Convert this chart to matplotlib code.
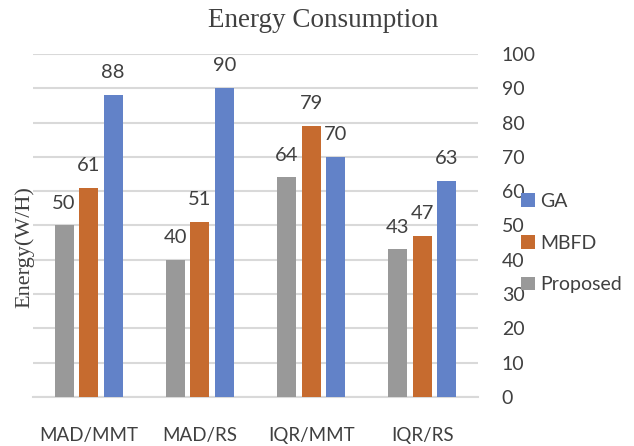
import matplotlib
matplotlib.use('Agg')
import matplotlib.pyplot as plt
import numpy as np

categories = ['MAD/MMT', 'MAD/RS', 'IQR/MMT', 'IQR/RS']
proposed = [50, 40, 64, 43]
mbfd = [61, 51, 79, 47]
ga = [88, 90, 70, 63]

text_col = '#404040'
sans = ['Lato', 'DejaVu Sans']
serif = ['Liberation Serif', 'DejaVu Serif']

fig = plt.figure(figsize=(6.34, 4.46), dpi=100)
ax = fig.add_axes([0.052, 0.110, 0.702, 0.769])

x = np.arange(len(categories))
w = 0.17
step = 0.22
b1 = ax.bar(x - step, proposed, w, color='#999999', label='Proposed', zorder=3)
b2 = ax.bar(x, mbfd, w, color='#C66B2F', label='MBFD', zorder=3)
b3 = ax.bar(x + step, ga, w, color='#6282C8', label='GA', zorder=3)

for bars in (b1, b2, b3):
    ax.bar_label(bars, padding=10, fontsize=14.5, color=text_col, family=sans)

ax.set_xlim(-0.5, 3.5)
ax.set_ylim(0, 100)
ax.set_yticks(range(0, 101, 10))
ax.yaxis.tick_right()
ax.grid(axis='y', color='#D9D9D9', linewidth=1.5, zorder=0)
for s in ['top', 'left', 'right']:
    ax.spines[s].set_visible(False)
ax.spines['bottom'].set_color('#D9D9D9')
ax.spines['bottom'].set_linewidth(1.5)
ax.tick_params(axis='y', length=0, pad=17, labelsize=14, labelcolor=text_col)
ax.tick_params(axis='x', length=0, pad=22, labelsize=13.5, labelcolor=text_col)
for lab in ax.get_xticklabels() + ax.get_yticklabels():
    lab.set_family(sans)
ax.set_xticks(x)
ax.set_xticklabels(categories)

fig.text(0.51, 0.953, 'Energy Consumption', ha='center', va='center',
         fontsize=19.5, color='#404040', family=serif)
fig.text(0.038, 0.445, 'Energy(W/H)', ha='center', va='center', rotation=90,
         fontsize=16, color='#404040', family=serif)

handles = [b3, b2, b1]
fig.legend(handles, [h.get_label() for h in handles], loc='center left',
           bbox_to_anchor=(0.794, 0.455), frameon=False, prop={'family': sans, 'size': 14},
           labelcolor=text_col, handlelength=0.7, handleheight=0.7, handletextpad=0.3,
           labelspacing=1.27)

fig.savefig('out.png', dpi=100)
